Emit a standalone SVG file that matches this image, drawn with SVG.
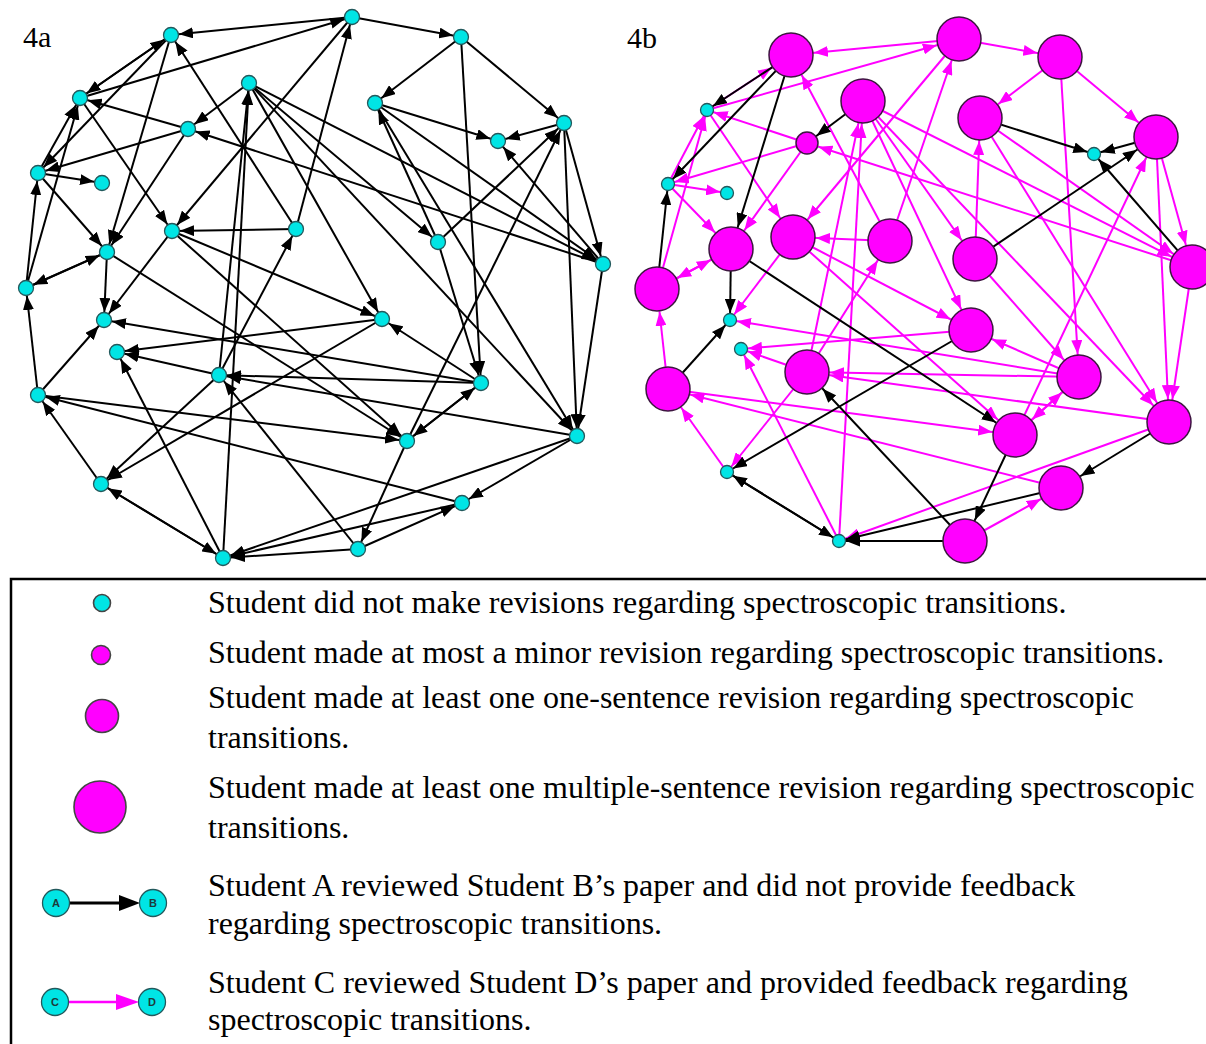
<svg xmlns="http://www.w3.org/2000/svg" width="1206" height="1044" viewBox="0 0 1206 1044">
  <style>
    text { font-family: "Liberation Serif", "Times New Roman", serif; fill: #000; }
    .lbl { font-size: 30px; }
    .leg { font-size: 32px; }
    .tiny { font-family: "Liberation Sans", Arial, sans-serif; font-size: 11px; font-weight: bold; fill: #1d3b3b; text-anchor: middle; }
    .edges line { stroke-width: 2; fill: none; }
    .cy { fill: #00e5e5; stroke: #23595c; stroke-width: 1.3; }
    .mg { fill: #ff00ff; stroke: #3d1640; stroke-width: 1.5; }
    .lg { stroke: #444; stroke-width: 1.6; }
  </style>
  <defs>
    <!-- arrowheads: refX places the tip on the rim of the target node -->
    <marker id="ak" markerUnits="userSpaceOnUse" markerWidth="14" markerHeight="11" refX="22" refY="5.5" orient="auto"><path d="M0,0L14,5.5L0,11z" fill="#000"/></marker>
    <marker id="k7" markerUnits="userSpaceOnUse" markerWidth="14" markerHeight="11" refX="21" refY="5.5" orient="auto"><path d="M0,0L14,5.5L0,11z" fill="#000"/></marker>
    <marker id="k11" markerUnits="userSpaceOnUse" markerWidth="14" markerHeight="11" refX="26" refY="5.5" orient="auto"><path d="M0,0L14,5.5L0,11z" fill="#000"/></marker>
    <marker id="k22" markerUnits="userSpaceOnUse" markerWidth="14" markerHeight="11" refX="37" refY="5.5" orient="auto"><path d="M0,0L14,5.5L0,11z" fill="#000"/></marker>
    <marker id="m7" markerUnits="userSpaceOnUse" markerWidth="14" markerHeight="11" refX="21" refY="5.5" orient="auto"><path d="M0,0L14,5.5L0,11z" fill="#ff00ff"/></marker>
    <marker id="m11" markerUnits="userSpaceOnUse" markerWidth="14" markerHeight="11" refX="26" refY="5.5" orient="auto"><path d="M0,0L14,5.5L0,11z" fill="#ff00ff"/></marker>
    <marker id="m22" markerUnits="userSpaceOnUse" markerWidth="14" markerHeight="11" refX="37" refY="5.5" orient="auto"><path d="M0,0L14,5.5L0,11z" fill="#ff00ff"/></marker>
  </defs>
  <rect width="1206" height="1044" fill="#fff"/>

  <text class="lbl" x="23" y="47">4a</text>
  <text class="lbl" x="627" y="48">4b</text>

  <!-- ===== network 4a: review ties ===== -->
  <g id="edges-4a" class="edges" stroke="#000" marker-end="url(#ak)">
    <line x1="352" y1="17" x2="171" y2="35"/>
    <line x1="80" y1="98" x2="352" y2="17"/>
    <line x1="296" y1="229" x2="352" y2="17"/>
    <line x1="352" y1="17" x2="461" y2="37"/>
    <line x1="461" y1="37" x2="375" y2="103"/>
    <line x1="461" y1="37" x2="564" y2="123"/>
    <line x1="461" y1="37" x2="481" y2="383"/>
    <line x1="375" y1="103" x2="498" y2="141"/>
    <line x1="564" y1="123" x2="498" y2="141"/>
    <line x1="603" y1="264" x2="498" y2="141"/>
    <line x1="438" y1="242" x2="564" y2="123"/>
    <line x1="407" y1="441" x2="564" y2="123"/>
    <line x1="564" y1="123" x2="603" y2="264"/>
    <line x1="564" y1="123" x2="577" y2="436"/>
    <line x1="603" y1="264" x2="577" y2="436"/>
    <line x1="171" y1="35" x2="80" y2="98"/>
    <line x1="80" y1="98" x2="171" y2="35"/>
    <line x1="171" y1="35" x2="38" y2="173"/>
    <line x1="171" y1="35" x2="107" y2="252"/>
    <line x1="296" y1="229" x2="171" y2="35"/>
    <line x1="249" y1="83" x2="188" y2="129"/>
    <line x1="188" y1="129" x2="80" y2="98"/>
    <line x1="188" y1="129" x2="38" y2="173"/>
    <line x1="188" y1="129" x2="107" y2="252"/>
    <line x1="603" y1="264" x2="188" y2="129"/>
    <line x1="80" y1="98" x2="172" y2="231"/>
    <line x1="38" y1="173" x2="102" y2="183"/>
    <line x1="38" y1="173" x2="107" y2="252"/>
    <line x1="26" y1="288" x2="38" y2="173"/>
    <line x1="38" y1="173" x2="80" y2="98"/>
    <line x1="26" y1="288" x2="80" y2="98"/>
    <line x1="219" y1="375" x2="249" y2="83"/>
    <line x1="223" y1="558" x2="249" y2="83"/>
    <line x1="352" y1="17" x2="172" y2="231"/>
    <line x1="438" y1="242" x2="375" y2="103"/>
    <line x1="375" y1="103" x2="603" y2="264"/>
    <line x1="375" y1="103" x2="577" y2="436"/>
    <line x1="438" y1="242" x2="481" y2="383"/>
    <line x1="249" y1="83" x2="577" y2="436"/>
    <line x1="249" y1="83" x2="382" y2="319"/>
    <line x1="249" y1="83" x2="603" y2="264"/>
    <line x1="481" y1="383" x2="382" y2="319"/>
    <line x1="107" y1="252" x2="26" y2="288"/>
    <line x1="26" y1="288" x2="107" y2="252"/>
    <line x1="38" y1="395" x2="26" y2="288"/>
    <line x1="38" y1="395" x2="104" y2="320"/>
    <line x1="107" y1="252" x2="104" y2="320"/>
    <line x1="172" y1="231" x2="104" y2="320"/>
    <line x1="481" y1="383" x2="104" y2="320"/>
    <line x1="382" y1="319" x2="117" y2="352"/>
    <line x1="219" y1="375" x2="117" y2="352"/>
    <line x1="223" y1="558" x2="117" y2="352"/>
    <line x1="358" y1="549" x2="219" y2="375"/>
    <line x1="481" y1="383" x2="219" y2="375"/>
    <line x1="577" y1="436" x2="219" y2="375"/>
    <line x1="219" y1="375" x2="101" y2="484"/>
    <line x1="382" y1="319" x2="101" y2="484"/>
    <line x1="101" y1="484" x2="38" y2="395"/>
    <line x1="101" y1="484" x2="223" y2="558"/>
    <line x1="223" y1="558" x2="101" y2="484"/>
    <line x1="577" y1="436" x2="223" y2="558"/>
    <line x1="462" y1="503" x2="223" y2="558"/>
    <line x1="358" y1="549" x2="223" y2="558"/>
    <line x1="219" y1="375" x2="296" y2="229"/>
    <line x1="296" y1="229" x2="172" y2="231"/>
    <line x1="107" y1="252" x2="407" y2="441"/>
    <line x1="38" y1="395" x2="407" y2="441"/>
    <line x1="462" y1="503" x2="38" y2="395"/>
    <line x1="577" y1="436" x2="462" y2="503"/>
    <line x1="358" y1="549" x2="462" y2="503"/>
    <line x1="481" y1="383" x2="407" y2="441"/>
    <line x1="407" y1="441" x2="481" y2="383"/>
    <line x1="407" y1="441" x2="358" y2="549"/>
    <line x1="172" y1="231" x2="382" y2="319"/>
    <line x1="172" y1="231" x2="407" y2="441"/>
    <line x1="249" y1="83" x2="438" y2="242"/>
  </g>

  <g id="nodes-4a">
    <g id="a1"><circle class="cy" cx="171" cy="35" r="7.5"/></g>
    <g id="a2"><circle class="cy" cx="352" cy="17" r="7.5"/></g>
    <g id="a3"><circle class="cy" cx="461" cy="37" r="7.5"/></g>
    <g id="a4"><circle class="cy" cx="80" cy="98" r="7.5"/></g>
    <g id="a5"><circle class="cy" cx="249" cy="83" r="7.5"/></g>
    <g id="a6"><circle class="cy" cx="188" cy="129" r="7.5"/></g>
    <g id="a7"><circle class="cy" cx="375" cy="103" r="7.5"/></g>
    <g id="a8"><circle class="cy" cx="498" cy="141" r="7.5"/></g>
    <g id="a9"><circle class="cy" cx="564" cy="123" r="7.5"/></g>
    <g id="a10"><circle class="cy" cx="38" cy="173" r="7.5"/></g>
    <g id="a11"><circle class="cy" cx="102" cy="183" r="7.5"/></g>
    <g id="a12"><circle class="cy" cx="172" cy="231" r="7.5"/></g>
    <g id="a13"><circle class="cy" cx="296" cy="229" r="7.5"/></g>
    <g id="a14"><circle class="cy" cx="438" cy="242" r="7.5"/></g>
    <g id="a15"><circle class="cy" cx="107" cy="252" r="7.5"/></g>
    <g id="a16"><circle class="cy" cx="603" cy="264" r="7.5"/></g>
    <g id="a17"><circle class="cy" cx="26" cy="288" r="7.5"/></g>
    <g id="a18"><circle class="cy" cx="104" cy="320" r="7.5"/></g>
    <g id="a19"><circle class="cy" cx="382" cy="319" r="7.5"/></g>
    <g id="a20"><circle class="cy" cx="117" cy="352" r="7.5"/></g>
    <g id="a21"><circle class="cy" cx="219" cy="375" r="7.5"/></g>
    <g id="a22"><circle class="cy" cx="481" cy="383" r="7.5"/></g>
    <g id="a23"><circle class="cy" cx="38" cy="395" r="7.5"/></g>
    <g id="a24"><circle class="cy" cx="407" cy="441" r="7.5"/></g>
    <g id="a25"><circle class="cy" cx="577" cy="436" r="7.5"/></g>
    <g id="a26"><circle class="cy" cx="101" cy="484" r="7.5"/></g>
    <g id="a27"><circle class="cy" cx="462" cy="503" r="7.5"/></g>
    <g id="a28"><circle class="cy" cx="223" cy="558" r="7.5"/></g>
    <g id="a29"><circle class="cy" cx="358" cy="549" r="7.5"/></g>
  </g>

  <!-- ===== network 4b: same ties, coloured by feedback ===== -->
  <g id="edges-4b" class="edges">
    <g stroke="#ff00ff" marker-end="url(#m22)">
      <line x1="959" y1="39" x2="791" y2="55"/>
      <line x1="707" y1="110" x2="959" y2="39"/>
      <line x1="890" y1="241" x2="959" y2="39"/>
      <line x1="959" y1="39" x2="1060" y2="57"/>
      <line x1="1060" y1="57" x2="980" y2="118"/>
      <line x1="1060" y1="57" x2="1156" y2="137"/>
      <line x1="1060" y1="57" x2="1079" y2="377"/>
      <line x1="1015" y1="435" x2="1156" y2="137"/>
      <line x1="1156" y1="137" x2="1192" y2="267"/>
      <line x1="1156" y1="137" x2="1169" y2="422"/>
      <line x1="1192" y1="267" x2="1169" y2="422"/>
      <line x1="707" y1="110" x2="791" y2="55"/>
      <line x1="890" y1="241" x2="791" y2="55"/>
      <line x1="807" y1="143" x2="731" y2="249"/>
      <line x1="707" y1="110" x2="793" y2="237"/>
      <line x1="668" y1="184" x2="731" y2="249"/>
      <line x1="807" y1="372" x2="863" y2="101"/>
      <line x1="839" y1="541" x2="863" y2="101"/>
      <line x1="959" y1="39" x2="793" y2="237"/>
      <line x1="975" y1="259" x2="980" y2="118"/>
      <line x1="980" y1="118" x2="1192" y2="267"/>
      <line x1="980" y1="118" x2="1169" y2="422"/>
      <line x1="975" y1="259" x2="1079" y2="377"/>
      <line x1="863" y1="101" x2="1169" y2="422"/>
      <line x1="863" y1="101" x2="971" y2="330"/>
      <line x1="863" y1="101" x2="1192" y2="267"/>
      <line x1="1079" y1="377" x2="971" y2="330"/>
      <line x1="731" y1="249" x2="657" y2="289"/>
      <line x1="657" y1="289" x2="731" y2="249"/>
      <line x1="668" y1="389" x2="657" y2="289"/>
      <line x1="1079" y1="377" x2="807" y2="372"/>
      <line x1="1169" y1="422" x2="807" y2="372"/>
      <line x1="727" y1="472" x2="668" y2="389"/>
      <line x1="807" y1="372" x2="890" y2="241"/>
      <line x1="890" y1="241" x2="793" y2="237"/>
      <line x1="668" y1="389" x2="1015" y2="435"/>
      <line x1="1061" y1="488" x2="668" y2="389"/>
      <line x1="965" y1="541" x2="1061" y2="488"/>
      <line x1="1079" y1="377" x2="1015" y2="435"/>
      <line x1="1015" y1="435" x2="1079" y2="377"/>
      <line x1="793" y1="237" x2="971" y2="330"/>
      <line x1="793" y1="237" x2="1015" y2="435"/>
      <line x1="863" y1="101" x2="975" y2="259"/>
    </g>
    <g stroke="#ff00ff" marker-end="url(#m11)">
      <line x1="1192" y1="267" x2="807" y2="143"/>
    </g>
    <g stroke="#ff00ff" marker-end="url(#m7)">
      <line x1="807" y1="143" x2="707" y2="110"/>
      <line x1="807" y1="143" x2="668" y2="184"/>
      <line x1="668" y1="184" x2="727" y2="193"/>
      <line x1="668" y1="184" x2="707" y2="110"/>
      <line x1="657" y1="289" x2="707" y2="110"/>
      <line x1="793" y1="237" x2="730" y2="320"/>
      <line x1="1079" y1="377" x2="730" y2="320"/>
      <line x1="971" y1="330" x2="741" y2="349"/>
      <line x1="807" y1="372" x2="741" y2="349"/>
      <line x1="839" y1="541" x2="741" y2="349"/>
      <line x1="807" y1="372" x2="727" y2="472"/>
      <line x1="1169" y1="422" x2="839" y2="541"/>
    </g>
    <g stroke="#000" marker-end="url(#k7)">
      <line x1="980" y1="118" x2="1094" y2="154"/>
      <line x1="1156" y1="137" x2="1094" y2="154"/>
      <line x1="1192" y1="267" x2="1094" y2="154"/>
      <line x1="791" y1="55" x2="707" y2="110"/>
      <line x1="791" y1="55" x2="668" y2="184"/>
      <line x1="657" y1="289" x2="668" y2="184"/>
      <line x1="668" y1="389" x2="730" y2="320"/>
      <line x1="731" y1="249" x2="730" y2="320"/>
      <line x1="971" y1="330" x2="727" y2="472"/>
      <line x1="727" y1="472" x2="839" y2="541"/>
      <line x1="839" y1="541" x2="727" y2="472"/>
      <line x1="1061" y1="488" x2="839" y2="541"/>
      <line x1="965" y1="541" x2="839" y2="541"/>
    </g>
    <g stroke="#000" marker-end="url(#k11)">
      <line x1="863" y1="101" x2="807" y2="143"/>
    </g>
    <g stroke="#000" marker-end="url(#k22)">
      <line x1="975" y1="259" x2="1156" y2="137"/>
      <line x1="791" y1="55" x2="731" y2="249"/>
      <line x1="965" y1="541" x2="807" y2="372"/>
      <line x1="731" y1="249" x2="1015" y2="435"/>
      <line x1="1169" y1="422" x2="1061" y2="488"/>
      <line x1="1015" y1="435" x2="965" y2="541"/>
    </g>
  </g>

  <g id="nodes-4b">
    <g id="b1"><circle class="mg" cx="791" cy="55" r="22"/></g>
    <g id="b2"><circle class="mg" cx="959" cy="39" r="22"/></g>
    <g id="b3"><circle class="mg" cx="1060" cy="57" r="22"/></g>
    <g id="b4"><circle class="cy" cx="707" cy="110" r="6.5"/></g>
    <g id="b5"><circle class="mg" cx="863" cy="101" r="22"/></g>
    <g id="b6"><circle class="mg" cx="807" cy="143" r="11"/></g>
    <g id="b7"><circle class="mg" cx="980" cy="118" r="22"/></g>
    <g id="b8"><circle class="cy" cx="1094" cy="154" r="6.5"/></g>
    <g id="b9"><circle class="mg" cx="1156" cy="137" r="22"/></g>
    <g id="b10"><circle class="cy" cx="668" cy="184" r="6.5"/></g>
    <g id="b11"><circle class="cy" cx="727" cy="193" r="6.5"/></g>
    <g id="b12"><circle class="mg" cx="793" cy="237" r="22"/></g>
    <g id="b13"><circle class="mg" cx="890" cy="241" r="22"/></g>
    <g id="b14"><circle class="mg" cx="975" cy="259" r="22"/></g>
    <g id="b15"><circle class="mg" cx="731" cy="249" r="22"/></g>
    <g id="b16"><circle class="mg" cx="1192" cy="267" r="22"/></g>
    <g id="b17"><circle class="mg" cx="657" cy="289" r="22"/></g>
    <g id="b18"><circle class="cy" cx="730" cy="320" r="6.5"/></g>
    <g id="b19"><circle class="mg" cx="971" cy="330" r="22"/></g>
    <g id="b20"><circle class="cy" cx="741" cy="349" r="6.5"/></g>
    <g id="b21"><circle class="mg" cx="807" cy="372" r="22"/></g>
    <g id="b22"><circle class="mg" cx="1079" cy="377" r="22"/></g>
    <g id="b23"><circle class="mg" cx="668" cy="389" r="22"/></g>
    <g id="b24"><circle class="mg" cx="1015" cy="435" r="22"/></g>
    <g id="b25"><circle class="mg" cx="1169" cy="422" r="22"/></g>
    <g id="b26"><circle class="cy" cx="727" cy="472" r="6.5"/></g>
    <g id="b27"><circle class="mg" cx="1061" cy="488" r="22"/></g>
    <g id="b28"><circle class="cy" cx="839" cy="541" r="6.5"/></g>
    <g id="b29"><circle class="mg" cx="965" cy="541" r="22"/></g>
  </g>

  <!-- ===== key ===== -->
  <g id="key">
    <rect x="11" y="579" width="1210" height="480" fill="none" stroke="#000" stroke-width="2.5"/>
    <g id="key-none"><circle class="cy lg" cx="102" cy="603" r="8.5"/></g>
    <g id="key-minor"><circle class="mg lg" cx="101" cy="655" r="9.5"/></g>
    <g id="key-one"><circle class="mg lg" cx="102" cy="716" r="16.5"/></g>
    <g id="key-multi"><circle class="mg lg" cx="100" cy="807" r="26"/></g>

    <g id="key-ab">
      <line x1="70" y1="903" x2="124" y2="903" stroke="#000" stroke-width="3"/>
      <polygon points="119,895 140,903 119,911" fill="#000"/>
      <g id="key-a"><circle class="cy" cx="56" cy="903" r="13.5"/><text class="tiny" x="56" y="907">A</text></g>
      <g id="key-b"><circle class="cy" cx="153" cy="903" r="13.5"/><text class="tiny" x="153" y="907">B</text></g>
    </g>
    <g id="key-cd">
      <line x1="68" y1="1002" x2="120" y2="1002" stroke="#ff00ff" stroke-width="2.5"/>
      <polygon points="116,994 139,1002 116,1010" fill="#ff00ff"/>
      <g id="key-c"><circle class="cy" cx="55" cy="1002" r="13.5"/><text class="tiny" x="55" y="1006">C</text></g>
      <g id="key-d"><circle class="cy" cx="152" cy="1002" r="13.5"/><text class="tiny" x="152" y="1006">D</text></g>
    </g>

    <text class="leg" x="208" y="613">Student did not make revisions regarding spectroscopic transitions.</text>
    <text class="leg" x="208" y="663">Student made at most a minor revision regarding spectroscopic transitions.</text>
    <text class="leg" x="208" y="708">Student made at least one one-sentence revision regarding spectroscopic</text>
    <text class="leg" x="208" y="748">transitions.</text>
    <text class="leg" x="208" y="798">Student made at least one multiple-sentence revision regarding spectroscopic</text>
    <text class="leg" x="208" y="838">transitions.</text>
    <text class="leg" x="208" y="896">Student A reviewed Student B’s paper and did not provide feedback</text>
    <text class="leg" x="208" y="934">regarding spectroscopic transitions.</text>
    <text class="leg" x="208" y="993">Student C reviewed Student D’s paper and provided feedback regarding</text>
    <text class="leg" x="208" y="1030">spectroscopic transitions.</text>
  </g>
</svg>
